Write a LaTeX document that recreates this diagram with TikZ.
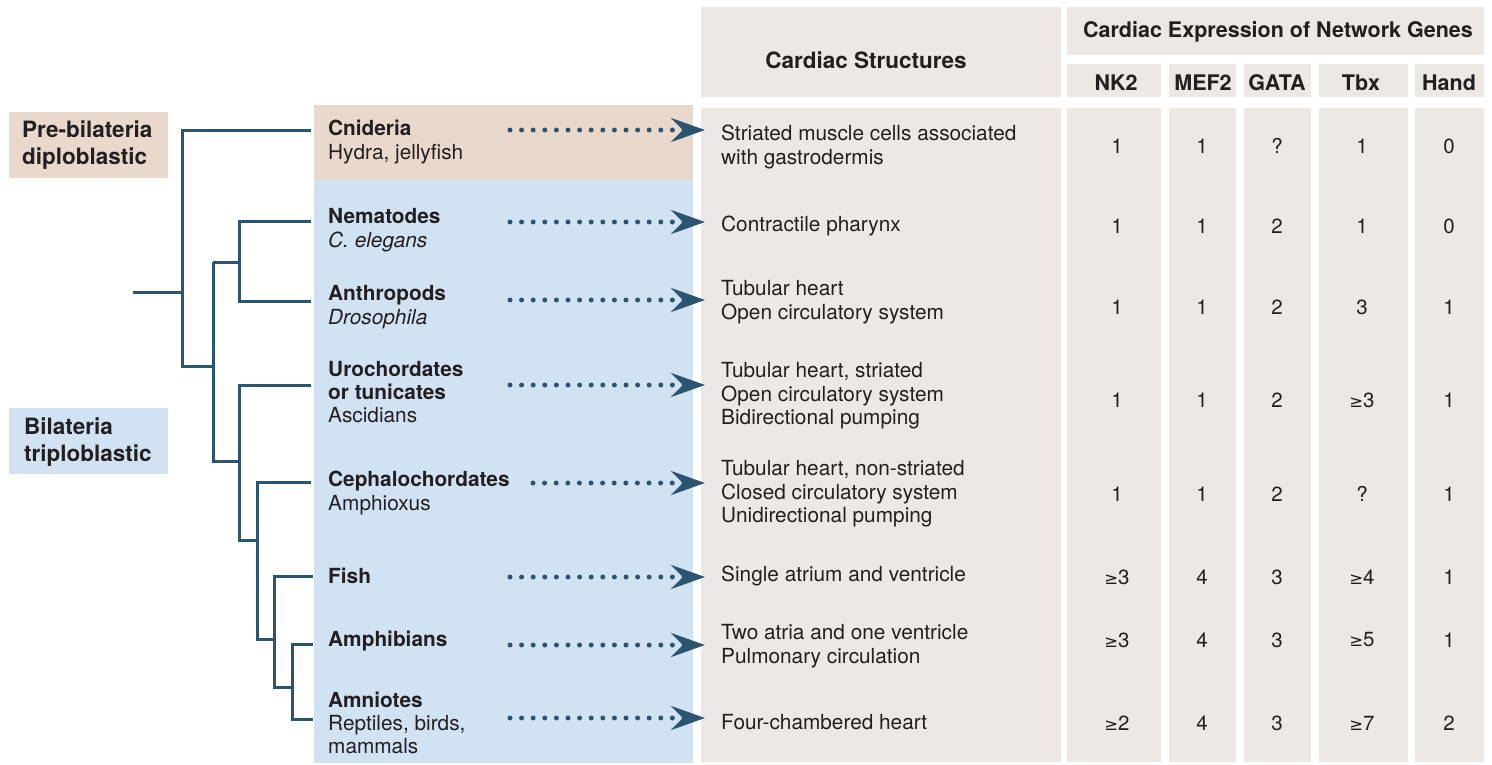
\documentclass[tikz,border=0pt]{standalone}
\usepackage{fontspec}
\setmainfont{TeX Gyre Heros}
\usetikzlibrary{arrows.meta}
\definecolor{tree}{HTML}{2A5470}
\definecolor{tan}{HTML}{E9D9CD}
\definecolor{blu}{HTML}{D1E2F3}
\definecolor{tbl}{HTML}{EDE8E3}
\definecolor{ink}{HTML}{231F20}
\newfontfamily\symfont{DejaVu Sans}
\tikzset{
  txt/.style={anchor=west, align=left, inner sep=0pt, text=ink, font=\fontsize{20.8}{23.4}\selectfont},
  grp/.style={anchor=west, align=left, inner sep=0pt, text=ink, font=\bfseries\fontsize{22.5}{27}\selectfont},
  hdr/.style={anchor=center, align=center, inner sep=0pt, text=ink, font=\bfseries\fontsize{21.5}{23}\selectfont},
  num/.style={anchor=center, inner sep=0pt, text=ink, font=\fontsize{20.5}{23}\selectfont},
  branch/.style={draw=tree, line width=3pt},
  dotarrow/.style={draw=tree, line width=5pt, line cap=round, dash pattern=on 0pt off 11.6pt,
    -{Stealth[length=34pt,width=24pt,inset=12pt]}},
}
\newcommand{\myge}{{\symfont\fontsize{16.5}{18}\selectfont ≥}}
\begin{document}
\begin{tikzpicture}[x=1pt,y=-1pt]
\useasboundingbox (0,0) rectangle (1492,765);
% backgrounds
\fill[tan] (9,112) rectangle (168,178);
\fill[blu] (9,408) rectangle (168,474);
\fill[tan] (314,105) rectangle (693,180);
\fill[blu] (314,180) rectangle (693,763);
\fill[tbl] (701,7) rectangle (1061,97);
\fill[tbl] (701,108) rectangle (1061,762);
\fill[tbl] (1067,7) rectangle (1484,55);
\foreach \a/\b in {1067/1161,1169/1236,1244/1311,1319/1408,1415/1484}{
  \fill[tbl] (\a,64) rectangle (\b,97);
  \fill[tbl] (\a,108) rectangle (\b,762);
}
% group labels
\node[grp] (pre) at (22,145) {Pre-bilateria\\diploblastic};
\node[grp] (bil) at (24,442) {Bilateria\\triploblastic};
% headers
\node[hdr, font=\bfseries\fontsize{22.5}{23}\selectfont] (hcs) at (866,60) {Cardiac Structures};
\node[hdr] (hce) at (1278,32) {Cardiac Expression of Network Genes};
\node[hdr] (gNK) at (1116,83) {NK2};
\node[hdr] (gME) at (1203,83) {MEF2};
\node[hdr] (gGA) at (1277,83) {GATA};
\node[hdr] (gTb) at (1361,83) {Tbx};
\node[hdr] (gHa) at (1449,83) {Hand};
% taxa
\node[txt] (t1) at (328,142) {\textbf{Cnideria}\\Hydra, jellyfish};
\node[txt] (t2) at (328,230) {\textbf{Nematodes}\\\textit{C. elegans}};
\node[txt] (t3) at (328,307) {\textbf{Anthropods}\\\textit{Drosophila}};
\node[txt] (t4) at (328,392) {\textbf{Urochordates}\\\textbf{or tunicates}\\Ascidians};
\node[txt] (t5) at (328,493) {\textbf{Cephalochordates}\\Amphioxus};
\node[txt] (t6) at (328,576) {\textbf{Fish}};
\node[txt] (t7) at (328,641) {\textbf{Amphibians}};
\node[txt] (t8) at (328,723) {\textbf{Amniotes}\\Reptiles, birds,\\mammals};
% structures
\node[txt] (c1) at (721,147) {Striated muscle cells associated\\with gastrodermis};
\node[txt] (c2) at (721,226) {Contractile pharynx};
\node[txt] (c3) at (721,302) {Tubular heart\\Open circulatory system};
\node[txt] (c4) at (721,396) {Tubular heart, striated\\Open circulatory system\\Bidirectional pumping};
\node[txt] (c5) at (721,494) {Tubular heart, non-striated\\Closed circulatory system\\Unidirectional pumping};
\node[txt] (c6) at (721,576) {Single atrium and ventricle};
\node[txt] (c7) at (721,646) {Two atria and one ventricle\\Pulmonary circulation};
\node[txt] (c8) at (721,722) {Four-chambered heart};
% arrows
\foreach \i/\y/\s in {1/130/510,2/222/510,3/300/510,4/385/510,5/483/533,6/577/510,7/645/510,8/718/510}{
  \coordinate (s\i) at (\s,\y);
  \coordinate (e\i) at (705,\y);
  \draw[dotarrow] (s\i) -- (e\i);
}
% numbers
\foreach \r/\y/\na/\nb/\nc/\nd/\ne in {
  1/146/1/1/?/1/0,
  2/226/1/1/2/1/0,
  3/307/1/1/2/3/1,
  4/400/1/1/2/{\myge3}/1,
  5/494/1/1/2/?/1,
  6/577/{\myge3}/4/3/{\myge4}/1,
  7/640/{\myge3}/4/3/{\myge5}/1,
  8/723/{\myge2}/4/3/{\myge7}/2}{
  \node[num] (n\r a) at (1117,\y) {\na};
  \node[num] (n\r b) at (1202,\y) {\nb};
  \node[num] (n\r c) at (1277,\y) {\nc};
  \node[num] (n\r d) at (1362,\y) {\nd};
  \node[num] (n\r e) at (1449,\y) {\ne};
}
% tree
\coordinate (r0) at (133,292);
\coordinate (r1) at (182,292);
\draw[branch] (r0) -- (r1);
\draw[branch] (311,131) -| (182,366) -- (213,366);
\draw[branch] (213,262) -- (213,461) -- (239,461);
\draw[branch] (213,262) -- (239,262);
\draw[branch] (311,221) -| (239,301) -- (311,301);
\draw[branch] (311,385) -| (239,540) -- (257,540);
\draw[branch] (311,482) -| (257,639) -- (274,639);
\draw[branch] (313,576) -| (274,687) -- (292,687);
\draw[branch] (313,644) -| (292,719) -- (313,719);
\end{tikzpicture}
\end{document}
